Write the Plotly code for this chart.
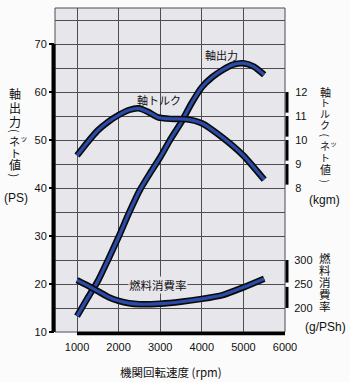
import plotly.graph_objects as go

# ---- data ----
rpm_power = [1000, 1250, 1500, 1750, 2000, 2250, 2500, 2750, 3000, 3250, 3500, 3750, 4000, 4250, 4500, 4750, 5000, 5250, 5500]
power_ps = [13.3, 17.0, 20.6, 25.1, 29.8, 34.8, 39.4, 43.0, 46.4, 50.2, 53.6, 57.6, 61.0, 63.1, 64.6, 65.7, 66.0, 65.3, 63.6]

rpm_torque = [1000, 1250, 1500, 1750, 2000, 2250, 2475, 2700, 2950, 3250, 3600, 4000, 4500, 5000, 5500]
torque_kgm = [9.35, 9.9, 10.4, 10.76, 11.04, 11.25, 11.32, 11.18, 10.94, 10.88, 10.87, 10.7, 10.1, 9.35, 8.35]

rpm_fuel = [1000, 1250, 1500, 1750, 2000, 2250, 2500, 3000, 3500, 4000, 4500, 5000, 5500]
fuel_gpsh = [258, 247, 235, 223, 215, 210, 208, 209, 213, 219, 227, 243, 261]

x_ticks = [1000, 2000, 3000, 4000, 5000, 6000]
ps_ticks = [10, 20, 30, 40, 50, 60, 70]
ps_minor = [15, 25, 35, 45, 55, 65, 75]
torque_ticks = [8, 9, 10, 11, 12]
fuel_ticks = [200, 250, 300]

BLUE = '#2a4ca8'
GRID = '#4d4d52'
PLOT_BG = '#e6e6eb'
NUM_FONT = 'Liberation Sans'
JP_FONT = 'Noto Sans CJK JP'

L, R, T, B = 55, 285, 8, 332
W, H = R - L, B - T


def px(x):
    return (x - L) / W


def py(y):
    return (B - y) / H


fig = go.Figure()
for xs, ys, ax in [(rpm_power, power_ps, 'y'), (rpm_torque, torque_kgm, 'y2'), (rpm_fuel, fuel_gpsh, 'y3')]:
    fig.add_trace(go.Scatter(x=xs, y=ys, yaxis=ax, mode='lines',
                             line=dict(color='#0a0a0a', width=6.5, shape='spline', smoothing=0.6),
                             hoverinfo='skip', showlegend=False))
    fig.add_trace(go.Scatter(x=xs, y=ys, yaxis=ax, mode='lines',
                             line=dict(color=BLUE, width=3.2, shape='spline', smoothing=0.6),
                             showlegend=False))

shapes = [
    dict(type='rect', xref='paper', yref='paper', x0=0, x1=1, y0=0, y1=1, line=dict(color=GRID, width=1), layer='below'),
    dict(type='line', xref='paper', yref='y', x0=-1.5 / W, x1=-1.5 / W, y0=10, y1=70, line=dict(color='black', width=4)),
    dict(type='line', xref='x', yref='paper', x0=1000, x1=6000, y0=-1.5 / H, y1=-1.5 / H, line=dict(color='black', width=3.5)),
]
for lo, hi in [(8, 9), (9, 10), (10, 11), (11, 12)]:
    shapes.append(dict(type='line', xref='paper', yref='y2', x0=1 + 2 / W, x1=1 + 2 / W, y0=lo + 0.14, y1=hi,
                       line=dict(color='black', width=3)))
for lo, hi in [(200, 244), (253, 300)]:
    shapes.append(dict(type='line', xref='paper', yref='y3', x0=1 + 2 / W, x1=1 + 2 / W, y0=lo, y1=hi,
                       line=dict(color='black', width=3)))

annotations = []


def ann(text, x, y, xref='paper', yref='paper', family=JP_FONT, size=11, angle=0, bg=None, xshift=0):
    d = dict(text=text, x=x, y=y, xref=xref, yref=yref, showarrow=False, xanchor='center', yanchor='middle',
             textangle=angle, borderpad=0, xshift=xshift, font=dict(family=family, size=size, color='#111'))
    if bg:
        d['bgcolor'] = bg
    annotations.append(d)


ann('軸出力', 4462, 67.8, 'x', 'y', size=11)
ann('軸トルク', 2960, 58.3, 'x', 'y', size=11)
ann('燃料消費率', 2950, 19.8, 'x', 'y', size=11.5, bg=PLOT_BG)
ann('機関回転速度 (rpm)', px(171), py(372), size=11.5)
ann('(PS)', px(16), py(198), family=NUM_FONT, size=12)
ann('(kgm)', px(324), py(200), family=NUM_FONT, size=12)
ann('(g/PSh)', px(325), py(327), family=NUM_FONT, size=12)


def vlabel(items, xc):
    for ch, yc, sz in items:
        angle = 90 if ch in '()' else 0
        shift = 0
        if ch == 'ネッ':
            ch = 'ネ<sup>ッ</sup>'
            shift = 3
        ann(ch, px(xc), py(yc), size=sz, angle=angle, xshift=shift)


vlabel([('軸', 93, 12), ('出', 107, 12), ('力', 121, 12), ('(', 131, 11), ('ネッ', 140.5, 11),
        ('ト', 152.5, 11), ('値', 164.5, 12), (')', 175.5, 11)], 15)
vlabel([('軸', 92, 11), ('ト', 103, 10), ('ル', 113, 10), ('ク', 124, 10), ('(', 134.5, 10), ('ネッ', 145, 10),
        ('ト', 157, 10), ('値', 169, 11), (')', 180.5, 10)], 325)
vlabel([('燃', 258, 11.5), ('料', 270, 11.5), ('消', 282, 11.5), ('費', 294, 11.5), ('率', 306, 11.5)], 325)

fig.update_layout(
    width=350, height=382,
    margin=dict(l=L, r=350 - R, t=T, b=382 - B),
    paper_bgcolor='#fbfbfb', plot_bgcolor=PLOT_BG,
    showlegend=False,
    shapes=shapes, annotations=annotations,
    xaxis=dict(range=[471, 6000], tickvals=x_ticks, showgrid=True, gridcolor=GRID, gridwidth=1,
               zeroline=False, showline=False, ticks='outside', ticklen=5, tickcolor='rgba(0,0,0,0)',
               tickfont=dict(family=NUM_FONT, size=11, color='#111')),
    yaxis=dict(range=[10, 77.5], tickvals=ps_ticks, showgrid=True, gridcolor=GRID, gridwidth=1,
               minor=dict(tickmode='array', tickvals=ps_minor, showgrid=True, gridcolor=GRID, gridwidth=1, ticks=''),
               zeroline=False, showline=False, ticks='outside', ticklen=5, tickwidth=2, tickcolor='black',
               tickfont=dict(family=NUM_FONT, size=11, color='#111')),
    yaxis2=dict(range=[2, 15.5], tickvals=torque_ticks, overlaying='y', side='right', anchor='x',
                showgrid=False, zeroline=False, showline=False, ticks='outside', ticklen=7, tickcolor='rgba(0,0,0,0)',
                tickfont=dict(family=NUM_FONT, size=11, color='#111')),
    yaxis3=dict(range=[150, 825], tickvals=fuel_ticks, overlaying='y', side='right', anchor='x',
                showgrid=False, zeroline=False, showline=False, ticks='outside', ticklen=6, tickcolor='rgba(0,0,0,0)',
                tickfont=dict(family=NUM_FONT, size=11, color='#111')),
)

fig.write_html('out.html')
